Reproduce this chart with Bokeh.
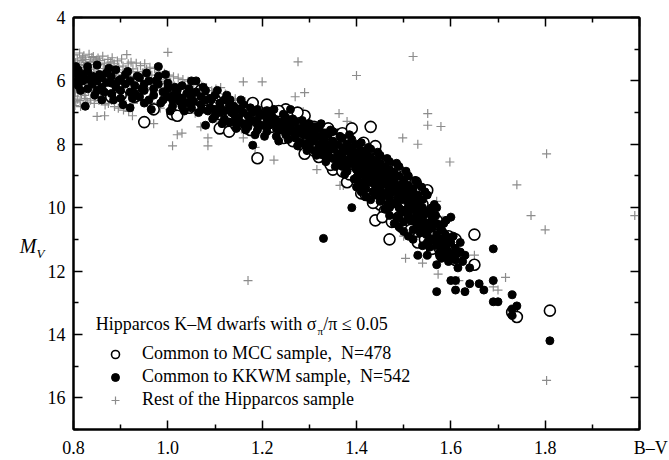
from bokeh.plotting import figure
from bokeh.models import (Range1d, FixedTicker, LinearAxis, Label, Legend,
                          LegendItem, ColumnDataSource, CustomLabelingPolicy)
from bokeh.embed import file_html
from bokeh.resources import INLINE

# ---------------- data (B-V, M_V) ----------------
x_ticks = [0.8, 1.0, 1.2, 1.4, 1.6, 1.8, 2.0]
x_tick_labels = ["0.8", "1.0", "1.2", "1.4", "1.6", "1.8", "\u00a0" * 5 + "B\u2013V"]
x_minor = [0.9, 1.1, 1.3, 1.5, 1.7, 1.9]
y_ticks = [4, 6, 8, 10, 12, 14, 16]
y_tick_labels = ["4", "6", "8", "10", "12", "14", "16"]
y_minor = [5, 7, 9, 11, 13, 15, 17]

kkwm_pts = [
    (0.80, 5.75), (0.80, 6.05), (0.81, 5.66), (0.81, 5.9), (0.81, 6.15), (0.82, 5.8), (0.82, 6.0),
    (0.83, 5.7), (0.83, 6.25), (0.83, 5.95), (0.84, 5.85), (0.84, 6.1), (0.85, 5.5), (0.85, 6.0),
    (0.85, 6.3), (0.86, 5.9), (0.86, 6.6), (0.86, 6.2), (0.825, 6.8), (0.87, 5.75), (0.87, 6.05),
    (0.88, 6.07), (0.88, 6.4), (0.88, 5.85), (0.89, 5.65), (0.89, 6.2), (0.90, 6.3), (0.90, 5.95),
    (0.90, 6.55), (0.91, 6.1), (0.91, 5.8), (0.92, 6.0), (0.92, 6.85), (0.92, 6.35), (0.93, 6.4),
    (0.93, 6.15), (0.94, 5.9), (0.94, 6.5), (0.95, 6.1), (0.95, 6.3), (0.95, 6.7), (0.96, 6.6),
    (0.96, 6.0), (0.97, 6.25), (0.97, 6.45), (0.98, 5.55), (0.98, 5.85), (0.98, 6.1), (0.99, 6.35),
    (0.99, 6.6), (1.00, 6.07), (1.00, 6.5), (1.00, 6.25), (1.01, 6.6), (1.01, 6.8), (1.02, 6.3),
    (1.02, 6.45), (1.03, 6.8), (1.03, 6.15), (1.03, 6.55), (1.04, 6.4), (1.04, 6.7), (1.05, 6.0),
    (1.05, 6.55), (1.05, 6.85), (1.06, 6.0), (1.06, 6.35), (1.07, 6.5), (1.07, 6.75), (1.08, 7.4),
    (1.08, 6.6), (1.08, 6.3), (1.09, 6.85), (1.09, 6.55), (1.10, 6.9), (1.10, 6.45), (1.10, 7.1),
    (1.11, 6.7), (1.11, 7.0), (1.12, 6.6), (1.12, 6.95), (1.12, 7.2), (1.13, 6.8), (1.13, 7.3),
    (1.14, 6.8), (1.14, 7.3), (1.14, 7.05), (1.15, 6.9), (1.15, 7.15), (1.16, 7.0), (1.16, 7.35),
    (1.16, 6.75), (1.17, 7.1), (1.17, 7.45), (1.18, 8.03), (1.18, 7.0), (1.18, 7.25), (1.19, 7.3),
    (1.19, 7.55), (1.19, 6.9), (1.20, 7.05), (1.20, 7.4), (1.21, 7.2), (1.21, 7.6), (1.21, 6.95),
    (1.22, 7.35), (1.22, 7.1), (1.23, 7.5), (1.23, 7.25), (1.23, 7.75), (1.24, 7.3), (1.24, 7.55),
    (1.25, 7.15), (1.25, 7.45), (1.25, 7.7), (1.26, 6.9), (1.26, 7.4), (1.26, 7.6), (1.27, 7.3),
    (1.27, 7.8), (1.27, 7.55), (1.28, 7.5), (1.28, 7.65), (1.28, 7.95), (1.29, 7.4), (1.29, 7.7),
    (1.29, 8.0), (1.30, 7.55), (1.30, 7.85), (1.30, 7.35), (1.30, 8.1), (1.31, 7.6), (1.31, 7.9),
    (1.31, 8.2), (1.32, 7.75), (1.32, 8.0), (1.32, 7.5), (1.33, 10.97), (1.33, 7.85), (1.33, 8.1),
    (1.33, 8.35), (1.34, 7.7), (1.34, 8.0), (1.34, 8.25), (1.35, 7.9), (1.35, 8.15), (1.35, 8.45),
    (1.35, 7.6), (1.36, 8.0), (1.36, 8.3), (1.36, 8.6), (1.37, 8.1), (1.37, 7.8), (1.37, 8.45),
    (1.37, 8.7), (1.38, 8.2), (1.38, 8.5), (1.38, 8.0), (1.38, 8.85), (1.39, 10.0), (1.39, 8.3),
    (1.39, 8.6), (1.39, 8.1), (1.40, 8.25), (1.40, 8.55), (1.40, 8.8), (1.40, 9.05), (1.40, 8.0),
    (1.41, 8.4), (1.41, 8.7), (1.41, 8.95), (1.41, 8.2), (1.42, 8.5), (1.42, 8.8), (1.42, 9.1),
    (1.42, 8.3), (1.42, 9.4), (1.43, 8.6), (1.43, 8.9), (1.43, 9.2), (1.43, 8.4), (1.44, 8.7),
    (1.44, 9.0), (1.44, 9.3), (1.44, 8.5), (1.44, 9.6), (1.45, 8.8), (1.45, 9.1), (1.45, 9.4),
    (1.45, 8.6), (1.45, 9.8), (1.46, 8.9), (1.46, 9.25), (1.46, 9.55), (1.46, 8.7), (1.47, 9.0),
    (1.47, 9.35), (1.47, 9.7), (1.47, 8.8), (1.47, 10.0), (1.48, 9.15), (1.48, 9.5), (1.48, 9.85),
    (1.48, 8.9), (1.49, 9.3), (1.49, 9.6), (1.49, 10.0), (1.49, 9.0), (1.49, 10.3), (1.50, 9.4),
    (1.50, 9.75), (1.50, 10.1), (1.50, 9.1), (1.50, 10.45), (1.51, 9.55), (1.51, 9.9), (1.51, 10.25),
    (1.51, 9.3), (1.52, 9.7), (1.52, 10.05), (1.52, 10.4), (1.52, 9.4), (1.52, 10.7), (1.53, 9.85),
    (1.53, 10.2), (1.53, 10.55), (1.53, 9.6), (1.53, 11.5), (1.54, 10.0), (1.54, 10.35), (1.54, 10.7),
    (1.55, 11.5), (1.54, 9.75), (1.55, 10.15), (1.55, 10.5), (1.55, 10.85), (1.55, 11.1), (1.56, 10.3),
    (1.56, 10.65), (1.56, 11.0), (1.56, 10.0), (1.57, 10.5), (1.57, 10.85), (1.57, 11.2), (1.57, 11.8),
    (1.57, 12.65), (1.58, 10.7), (1.58, 11.0), (1.58, 11.35), (1.58, 11.6), (1.59, 10.9), (1.59, 11.2),
    (1.59, 11.5), (1.60, 10.3), (1.60, 11.1), (1.60, 11.45), (1.60, 12.3), (1.61, 11.3), (1.61, 11.65),
    (1.61, 12.6), (1.61, 12.3), (1.62, 11.4), (1.62, 11.1), (1.63, 11.5), (1.63, 12.65), (1.64, 11.9),
    (1.64, 12.4), (1.66, 12.4), (1.67, 12.6), (1.69, 11.3), (1.69, 12.3), (1.69, 12.97), (1.70, 12.97),
    (1.73, 12.75), (1.73, 13.2), (1.73, 13.4), (1.74, 13.1), (1.81, 14.2),
    (0.805, 5.55), (0.815, 6.3), (0.83, 5.55), (0.845, 6.45), (0.855, 5.8), (0.865, 6.35),
    (0.875, 5.6), (0.885, 6.6), (0.895, 6.0), (0.905, 6.75), (0.915, 5.7), (0.925, 6.55),
    (0.935, 5.85), (0.945, 6.25), (0.955, 5.75), (0.965, 6.9), (0.975, 6.0), (0.985, 6.7),
    (0.995, 5.8), (1.005, 6.95), (1.015, 6.2), (1.025, 6.65), (1.035, 6.95), (1.045, 6.25),
    (1.055, 6.65), (1.065, 7.0), (1.075, 6.2), (1.085, 6.95), (1.095, 7.2), (1.105, 6.3),
    (1.115, 7.35), (1.125, 6.45), (1.135, 7.0), (1.145, 7.5), (1.155, 6.6), (1.165, 7.55),
    (1.175, 6.85), (1.185, 7.7), (1.195, 7.1), (1.205, 7.75), (1.215, 7.4), (1.225, 6.9),
    (1.235, 7.9), (1.245, 7.05), (1.255, 7.85), (1.265, 7.2), (1.275, 8.05), (1.285, 7.25),
    (1.295, 8.2), (1.305, 7.7), (1.315, 8.35), (1.325, 7.35), (1.335, 8.55), (1.345, 7.55),
    (1.355, 8.7), (1.365, 7.75), (1.375, 8.95), (1.385, 7.7), (1.395, 9.1), (1.405, 8.4),
    (1.415, 9.3), (1.425, 8.1), (1.435, 9.5), (1.445, 8.25), (1.455, 9.65), (1.465, 8.45),
    (1.475, 9.9), (1.485, 8.6), (1.495, 10.15), (1.505, 8.85), (1.515, 10.4), (1.525, 9.15),
    (1.535, 10.8), (1.545, 9.5), (1.555, 11.25), (1.565, 9.9), (1.575, 11.45), (1.585, 10.5),
    (1.595, 11.7), (1.605, 10.9), (1.615, 11.9), (1.625, 11.7), (1.455, 9.0), (1.465, 9.9),
    (1.475, 9.2), (1.485, 10.3), (1.495, 9.5), (1.505, 9.65), (1.515, 9.75), (1.525, 10.3),
    (1.535, 10.0), (1.545, 10.2), (1.445, 9.5), (1.435, 8.75), (1.425, 9.0), (1.415, 8.55),
    (1.405, 8.9),
    (1.302, 7.95), (1.312, 7.45), (1.322, 8.15), (1.332, 7.65), (1.342, 8.4), (1.352, 8.05),
    (1.362, 8.45), (1.372, 8.25), (1.382, 8.65), (1.392, 8.45), (1.402, 8.65), (1.412, 8.85),
    (1.422, 8.7), (1.432, 9.05), (1.442, 8.9), (1.452, 9.3), (1.462, 9.1), (1.472, 9.55),
    (1.482, 9.3), (1.492, 9.75), (1.502, 9.55), (1.512, 10.05), (1.522, 9.9), (1.532, 10.35),
    (1.542, 10.5), (1.552, 10.7), (1.562, 10.45), (1.572, 11.0), (1.582, 11.15), (1.592, 11.35),
    (1.602, 11.55), (1.612, 11.45), (1.388, 8.35), (1.398, 8.75), (1.408, 9.2), (1.418, 8.35),
    (1.428, 8.6), (1.438, 9.25), (1.448, 9.2), (1.458, 8.8), (1.468, 9.45), (1.478, 8.95),
    (1.488, 9.7), (1.498, 9.25), (1.508, 10.15), (1.518, 9.5), (1.528, 9.7), (1.538, 9.35),
    (1.548, 10.85), (1.558, 10.1), (1.568, 10.25), (1.578, 10.6), (1.588, 10.85), (1.598, 11.05),
    (1.012, 6.45), (1.032, 6.65), (1.052, 6.4), (1.072, 6.9), (1.092, 6.6), (1.112, 6.85),
    (1.132, 6.6), (1.152, 7.3), (1.172, 7.3), (1.192, 7.4), (1.212, 7.05), (1.232, 7.4),
    (1.252, 7.3), (1.272, 7.65), (1.292, 7.55),
    (1.40, 9.35), (1.41, 9.5), (1.42, 9.65), (1.43, 9.75), (1.46, 10.05), (1.48, 10.5),
    (1.50, 10.75), (1.51, 10.9), (1.52, 11.0), (1.54, 11.2), (1.49, 10.6), (1.47, 10.25),
    (1.39, 7.85), (1.41, 7.95), (1.43, 8.15), (1.45, 8.35), (1.47, 8.55), (1.49, 8.7),
    (1.51, 9.0), (1.53, 9.25), (1.55, 9.6), (1.57, 10.0), (1.59, 10.4),
]

mcc_pts = [
    (0.88, 6.5), (0.90, 6.45), (0.93, 6.5), (0.95, 7.3), (0.97, 6.9), (1.01, 7.05), (1.02, 7.1),
    (1.03, 6.35), (1.07, 6.3), (1.08, 6.6), (1.10, 6.6), (1.11, 7.5), (1.11, 7.05), (1.13, 7.6),
    (1.15, 6.95), (1.16, 7.2), (1.18, 6.7), (1.19, 8.44), (1.19, 7.3), (1.21, 6.75), (1.21, 7.0),
    (1.22, 7.45), (1.23, 7.2), (1.24, 7.6), (1.25, 7.4), (1.25, 6.9), (1.26, 7.15), (1.26, 7.75),
    (1.27, 7.55), (1.28, 7.3), (1.28, 8.0), (1.29, 8.3), (1.29, 7.1), (1.29, 7.65), (1.30, 7.85),
    (1.31, 7.45), (1.31, 8.2), (1.32, 7.6), (1.32, 8.4), (1.33, 8.05), (1.34, 7.5), (1.34, 8.5),
    (1.34, 7.85), (1.35, 8.8), (1.35, 8.2), (1.36, 7.7), (1.36, 8.55), (1.37, 7.65), (1.37, 8.85),
    (1.37, 8.1), (1.38, 9.2), (1.38, 8.4), (1.39, 7.5), (1.39, 8.7), (1.40, 8.3), (1.40, 9.0),
    (1.41, 9.55), (1.41, 8.6), (1.42, 9.6), (1.42, 8.9), (1.43, 7.45), (1.43, 9.6), (1.43, 8.5),
    (1.44, 8.06), (1.44, 10.4), (1.44, 9.6), (1.44, 9.2), (1.45, 8.7), (1.45, 9.9), (1.46, 10.1),
    (1.46, 9.3), (1.47, 11.0), (1.47, 8.9), (1.47, 9.7), (1.48, 10.15), (1.48, 9.5), (1.49, 8.85),
    (1.49, 10.3), (1.49, 9.2), (1.50, 9.0), (1.50, 9.8), (1.51, 10.5), (1.51, 9.6), (1.52, 10.0),
    (1.52, 10.8), (1.53, 11.1), (1.53, 9.45), (1.53, 10.35), (1.54, 10.6), (1.54, 9.9), (1.55, 9.45),
    (1.55, 10.9), (1.55, 10.2), (1.56, 10.6), (1.56, 11.3), (1.57, 11.0), (1.57, 10.4), (1.58, 11.5),
    (1.58, 10.8), (1.59, 11.2), (1.61, 11.65), (1.61, 11.0), (1.65, 10.85), (1.65, 11.8),
    (1.73, 13.3), (1.74, 13.45), (1.81, 13.25),
    (1.045, 6.85), (1.065, 6.6), (1.095, 6.75), (1.125, 6.85), (1.145, 7.4), (1.175, 7.55),
    (1.205, 7.25), (1.235, 6.95), (1.245, 7.8), (1.265, 7.9), (1.275, 7.0), (1.305, 8.05),
    (1.325, 8.25), (1.345, 8.65), (1.355, 7.85), (1.385, 8.95), (1.395, 8.25), (1.415, 9.1),
    (1.435, 9.85), (1.455, 10.3), (1.475, 10.45), (1.495, 10.6), (1.515, 10.7), (1.525, 9.2),
    (1.545, 11.0), (1.565, 10.85), (1.575, 11.25), (1.595, 10.9), (1.505, 9.35), (1.465, 8.6),
    (1.445, 8.4), (1.415, 7.95), (1.335, 7.7),
]

rest_pts = [
    (0.802, 5.18), (0.804, 5.43), (0.801, 5.62), (0.806, 5.84), (0.803, 6.07), (0.805, 6.26),
    (0.802, 6.48), (0.808, 5.31), (0.807, 5.55), (0.809, 5.74), (0.801, 5.96), (0.806, 6.15),
    (0.804, 6.37), (0.809, 6.58), (0.803, 6.78), (0.813, 5.12), (0.816, 5.36), (0.812, 5.58),
    (0.818, 5.79), (0.815, 5.99), (0.811, 6.19), (0.817, 6.41), (0.814, 6.62), (0.819, 5.27),
    (0.812, 5.49), (0.816, 5.68), (0.822, 5.21), (0.826, 5.42), (0.821, 5.64), (0.828, 5.86),
    (0.824, 6.03), (0.827, 6.24), (0.823, 6.46), (0.829, 6.67), (0.825, 5.33), (0.821, 5.52),
    (0.833, 5.16), (0.836, 5.39), (0.831, 5.57), (0.838, 5.77), (0.834, 5.98), (0.837, 6.21),
    (0.832, 6.33), (0.839, 5.26), (0.835, 5.48), (0.842, 5.23), (0.846, 5.41), (0.843, 5.63),
    (0.848, 5.88), (0.845, 6.09), (0.841, 6.31), (0.847, 6.52), (0.849, 5.34), (0.852, 5.28),
    (0.856, 5.47), (0.853, 5.69), (0.858, 5.91), (0.851, 6.12), (0.857, 6.42), (0.855, 5.36),
    (0.850, 7.12), (0.862, 5.22), (0.866, 5.44), (0.863, 5.61), (0.868, 5.83), (0.864, 6.33),
    (0.861, 6.53), (0.866, 7.10), (0.873, 5.32), (0.877, 5.52), (0.871, 5.72), (0.876, 6.47),
    (0.879, 5.41), (0.882, 5.27), (0.886, 5.46), (0.884, 5.67), (0.888, 6.36), (0.881, 6.62),
    (0.893, 5.37), (0.896, 5.56), (0.891, 5.81), (0.898, 6.52), (0.902, 5.31), (0.905, 5.53),
    (0.908, 5.73), (0.904, 6.63), (0.913, 5.17), (0.916, 5.46), (0.911, 5.66), (0.918, 6.47),
    (0.922, 5.41), (0.926, 5.62), (0.921, 5.86), (0.927, 6.71), (0.925, 7.10), (0.933, 5.44),
    (0.936, 5.71), (0.932, 6.56), (0.942, 5.52), (0.946, 5.76), (0.944, 6.61), (0.951, 5.46),
    (0.955, 5.63), (0.953, 5.87), (0.957, 6.76), (0.962, 5.57), (0.966, 5.82), (0.964, 6.69),
    (0.972, 5.61), (0.975, 5.92), (0.970, 7.35), (0.982, 5.72), (0.986, 6.02), (0.984, 6.86),
    (0.993, 5.76), (0.996, 5.97), (1.000, 5.10), (1.003, 5.82), (1.006, 6.04), (1.004, 6.91),
    (1.012, 5.87), (1.010, 8.05), (1.016, 6.96), (1.022, 5.91), (1.020, 7.70), (1.026, 6.22),
    (1.032, 5.96), (1.030, 7.65), (1.036, 6.12), (1.043, 6.01), (1.047, 6.32), (1.052, 6.06),
    (1.055, 6.27), (1.058, 7.02), (1.063, 6.12), (1.066, 6.41), (1.072, 6.16), (1.070, 7.45),
    (1.085, 7.80), (1.085, 8.05), (1.082, 6.21), (1.093, 6.31), (1.096, 6.46), (1.102, 6.26),
    (1.106, 6.52), (1.104, 7.22), (1.112, 6.21), (1.116, 6.56), (1.122, 6.41), (1.126, 7.36),
    (1.132, 6.51), (1.136, 6.62), (1.143, 6.56), (1.152, 6.61), (1.156, 7.52), (1.160, 6.03),
    (1.160, 7.80), (1.164, 6.66), (1.170, 12.30), (1.173, 6.76), (1.185, 8.10), (1.182, 6.81),
    (1.200, 6.03), (1.203, 6.86), (1.222, 6.96), (1.225, 8.50), (1.242, 7.02), (1.270, 6.50),
    (1.276, 5.40), (1.290, 6.37), (1.287, 6.97), (1.316, 8.80), (1.363, 7.03), (1.365, 9.30),
    (1.372, 9.30), (1.380, 7.28), (1.400, 5.83), (1.498, 7.80), (1.500, 10.90), (1.504, 11.60),
    (1.520, 5.23), (1.530, 8.00), (1.540, 11.75), (1.551, 7.03), (1.551, 7.40), (1.570, 9.80),
    (1.573, 12.10), (1.579, 7.44), (1.583, 10.40), (1.598, 8.56), (1.600, 10.30), (1.617, 12.30),
    (1.650, 11.50), (1.690, 12.50), (1.700, 12.60), (1.716, 12.20), (1.740, 9.28), (1.770, 10.25),
    (1.800, 10.70), (1.803, 8.30), (1.803, 15.45), (1.990, 10.25),
    (0.872, 5.96), (0.883, 6.12), (0.894, 6.08), (0.903, 5.92), (0.912, 6.02), (0.923, 6.16),
    (0.934, 6.01), (0.943, 6.12), (0.952, 6.21), (0.963, 6.26), (0.973, 6.12), (0.983, 6.31),
    (0.992, 6.22), (1.001, 6.36), (1.013, 6.31), (1.024, 6.46), (1.033, 6.41), (1.042, 6.56),
    (1.053, 6.51), (1.064, 6.66), (1.074, 6.56), (1.083, 6.71), (1.094, 6.76), (1.101, 6.82),
    (1.113, 6.86), (1.124, 6.91), (1.141, 6.96), (0.805, 6.66), (0.815, 6.81), (0.826, 6.56),
    (0.836, 6.61), (0.844, 6.71), (0.854, 6.62), (0.867, 6.76), (0.874, 6.71), (0.887, 6.81),
    (0.895, 6.86), (0.906, 6.92), (0.917, 6.96),
]

legend_title = "Hipparcos K\u2013M dwarfs with \u03c3"
legend_labels = ["Common to MCC sample,  N=478",
                 "Common to KKWM sample,  N=542",
                 "Rest of the Hipparcos sample"]

# ---------------- figure ----------------
FONT = "Liberation Serif"

p = figure(width=669, height=460, output_backend="svg", toolbar_location=None,
           x_range=Range1d(0.8, 2.0), y_range=Range1d(17, 4),
           min_border_left=73, min_border_right=30, min_border_top=17,
           min_border_bottom=28)
p.grid.visible = False
p.outline_line_color = "black"
p.outline_line_width = 2
p.background_fill_color = "white"
p.border_fill_color = "white"

hide_all = CustomLabelingPolicy(
    code="for (let i = 0; i < indices.size; i++) { indices.set(i, false) }\nreturn indices")

p.add_layout(LinearAxis(major_label_policy=hide_all), "above")
p.add_layout(LinearAxis(major_label_policy=hide_all), "right")

for ax in p.xaxis:
    ax.ticker = FixedTicker(ticks=x_ticks, minor_ticks=x_minor)
    ax.major_label_overrides = {t: l for t, l in zip(x_ticks, x_tick_labels)}
for ax in p.yaxis:
    ax.ticker = FixedTicker(ticks=y_ticks, minor_ticks=y_minor)
    ax.major_label_overrides = {t: l for t, l in zip(y_ticks, y_tick_labels)}

for ax in p.xaxis + p.yaxis:
    ax.axis_line_width = 2
    ax.axis_line_color = "black"
    ax.major_tick_in = 9
    ax.major_tick_out = 0
    ax.minor_tick_in = 5
    ax.minor_tick_out = 0
    ax.major_tick_line_width = 1.5
    ax.minor_tick_line_width = 1.5
    ax.major_tick_line_color = "black"
    ax.minor_tick_line_color = "black"
    ax.major_label_text_font = FONT
    ax.major_label_text_font_size = "18px"
    ax.major_label_text_color = "black"
    ax.major_label_standoff = 8

for ax in (p.above[0], p.right[0]):
    ax.major_label_text_font_size = "1px"
    ax.major_label_standoff = 0


# y-axis title "M_V": built from two label-only axes on the left
def title_axis(pos, text, size, standoff):
    ax = LinearAxis(ticker=FixedTicker(ticks=[pos], minor_ticks=[]),
                    major_label_overrides={pos: text})
    ax.axis_line_color = None
    ax.major_tick_line_color = None
    ax.minor_tick_line_color = None
    ax.major_tick_in = 0
    ax.major_tick_out = 0
    ax.minor_tick_in = 0
    ax.minor_tick_out = 0
    ax.major_label_standoff = standoff
    ax.major_label_text_font = FONT
    ax.major_label_text_font_style = "italic"
    ax.major_label_text_font_size = size
    ax.major_label_text_color = "black"
    return ax


p.add_layout(title_axis(11.45, "V", "13px", 0), "left")
p.add_layout(title_axis(11.2, "M", "20px", -3), "left")

rest_src = ColumnDataSource(dict(x=[a for a, b in rest_pts], y=[b for a, b in rest_pts]))
mcc_src = ColumnDataSource(dict(x=[a for a, b in mcc_pts], y=[b for a, b in mcc_pts]))
kkwm_src = ColumnDataSource(dict(x=[a for a, b in kkwm_pts], y=[b for a, b in kkwm_pts]))

r_rest = p.scatter("x", "y", source=rest_src, marker="cross", size=9,
                   line_color="#8c8c8c", line_width=1.2)
r_mcc = p.scatter("x", "y", source=mcc_src, marker="circle", size=11,
                  fill_color="white", line_color="black", line_width=1.6)
r_kkwm = p.scatter("x", "y", source=kkwm_src, marker="circle", size=8,
                   fill_color="black", line_color="black", line_width=1)

legend = Legend(items=[LegendItem(label=legend_labels[0], renderers=[r_mcc]),
                       LegendItem(label=legend_labels[1], renderers=[r_kkwm]),
                       LegendItem(label=legend_labels[2], renderers=[r_rest])],
                location=(32, 19), padding=0, margin=0, spacing=2,
                glyph_width=20, glyph_height=20, label_height=20,
                label_standoff=17, label_text_font=FONT,
                label_text_font_size="18px", label_text_color="black",
                background_fill_alpha=0, border_line_alpha=0)
p.add_layout(legend)

# legend title with subscript
p.add_layout(Label(x=0.847, y=13.67, text=legend_title, text_font=FONT,
                   text_font_size="18px", text_baseline="middle", text_align="left",
                   text_color="black"))
p.add_layout(Label(x=1.3175, y=13.89, text="\u03c0", text_font=FONT,
                   text_font_size="11px", text_baseline="middle", text_align="left",
                   text_color="black"))
p.add_layout(Label(x=1.3295, y=13.67, text="/\u03c0 \u2264 0.05", text_font=FONT,
                   text_font_size="18px", text_baseline="middle", text_align="left",
                   text_color="black"))

open("out.html", "w").write(file_html(p, INLINE))
